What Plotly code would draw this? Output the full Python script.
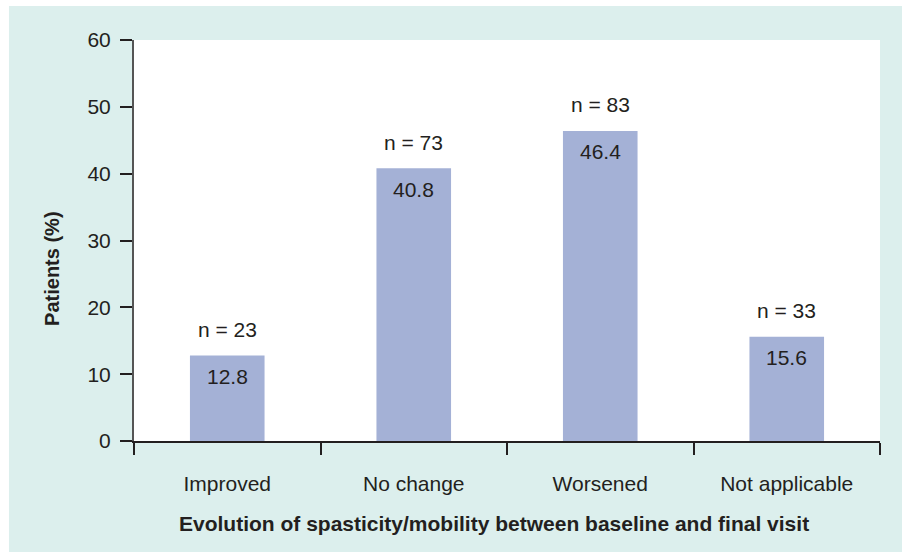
import plotly.graph_objects as go

categories = ["Improved", "No change", "Worsened", "Not applicable"]
percent = [12.8, 40.8, 46.4, 15.6]
n_labels = ["n = 23", "n = 73", "n = 83", "n = 33"]
y_ticks = [0, 10, 20, 30, 40, 50, 60]

TEXT = "#231f20"
BAR = "#a4b1d6"
PANEL = "#dcefed"
FONT = "Liberation Sans, Arial, sans-serif"
FS = 21

fig = go.Figure()
fig.add_trace(go.Bar(
    x=categories, y=percent, marker=dict(color=BAR, line=dict(width=0)),
    width=0.4, hoverinfo="skip", showlegend=False,
))

annotations = []
for c, v, n in zip(categories, percent, n_labels):
    annotations.append(dict(x=c, y=v, xref="x", yref="y", text=f"{v}", showarrow=False,
                            yshift=-21, font=dict(size=FS, color=TEXT, family=FONT)))
    annotations.append(dict(x=c, y=v, xref="x", yref="y", text=n, showarrow=False,
                            yshift=26, font=dict(size=FS, color=TEXT, family=FONT)))

annotations.append(dict(xref="paper", yref="paper", x=0.483, y=-0.2045,
                        text="<b>Evolution of spasticity/mobility between baseline and final visit</b>",
                        showarrow=False, xanchor="center", yanchor="middle",
                        font=dict(size=FS, color=TEXT, family=FONT)))
annotations.append(dict(xref="paper", yref="paper", x=-0.11, y=0.429,
                        text="<b>Patients (%)</b>", textangle=-90,
                        showarrow=False, xanchor="center", yanchor="middle",
                        font=dict(size=20, color=TEXT, family=FONT)))

shapes = [
    dict(type="rect", xref="paper", yref="paper", x0=-0.1676, x1=1.0295, y0=-0.2768, y1=1.0848,
         fillcolor=PANEL, line=dict(width=0), layer="below"),
    dict(type="rect", xref="paper", yref="paper", x0=0, x1=1, y0=0, y1=1,
         fillcolor="white", line=dict(width=0), layer="below"),
]

fig.update_layout(
    width=907, height=555,
    margin=dict(l=134, r=27, t=40, b=114),
    paper_bgcolor="white", plot_bgcolor="rgba(0,0,0,0)",
    font=dict(family=FONT, size=FS, color=TEXT),
    annotations=annotations, shapes=shapes,
    bargap=0.6,
)
fig.update_xaxes(
    type="category", tickson="boundaries", ticks="outside", ticklen=12, tickwidth=2,
    tickcolor=TEXT, showline=True, linecolor=TEXT, linewidth=2, showgrid=False,
    tickfont=dict(size=FS, color=TEXT, family=FONT), ticklabelstandoff=23,
)
fig.update_yaxes(
    range=[0, 60], tickvals=y_ticks, ticks="outside", ticklen=12, tickwidth=2,
    tickcolor=TEXT, showline=True, linecolor="#555555", linewidth=2, showgrid=False,
    zeroline=False, tickfont=dict(size=FS, color=TEXT, family=FONT), ticklabelstandoff=5,
)

fig.write_html("out.html", config={"displayModeBar": False},
               post_script="document.body.style.margin='0';document.body.style.overflow='hidden';")
